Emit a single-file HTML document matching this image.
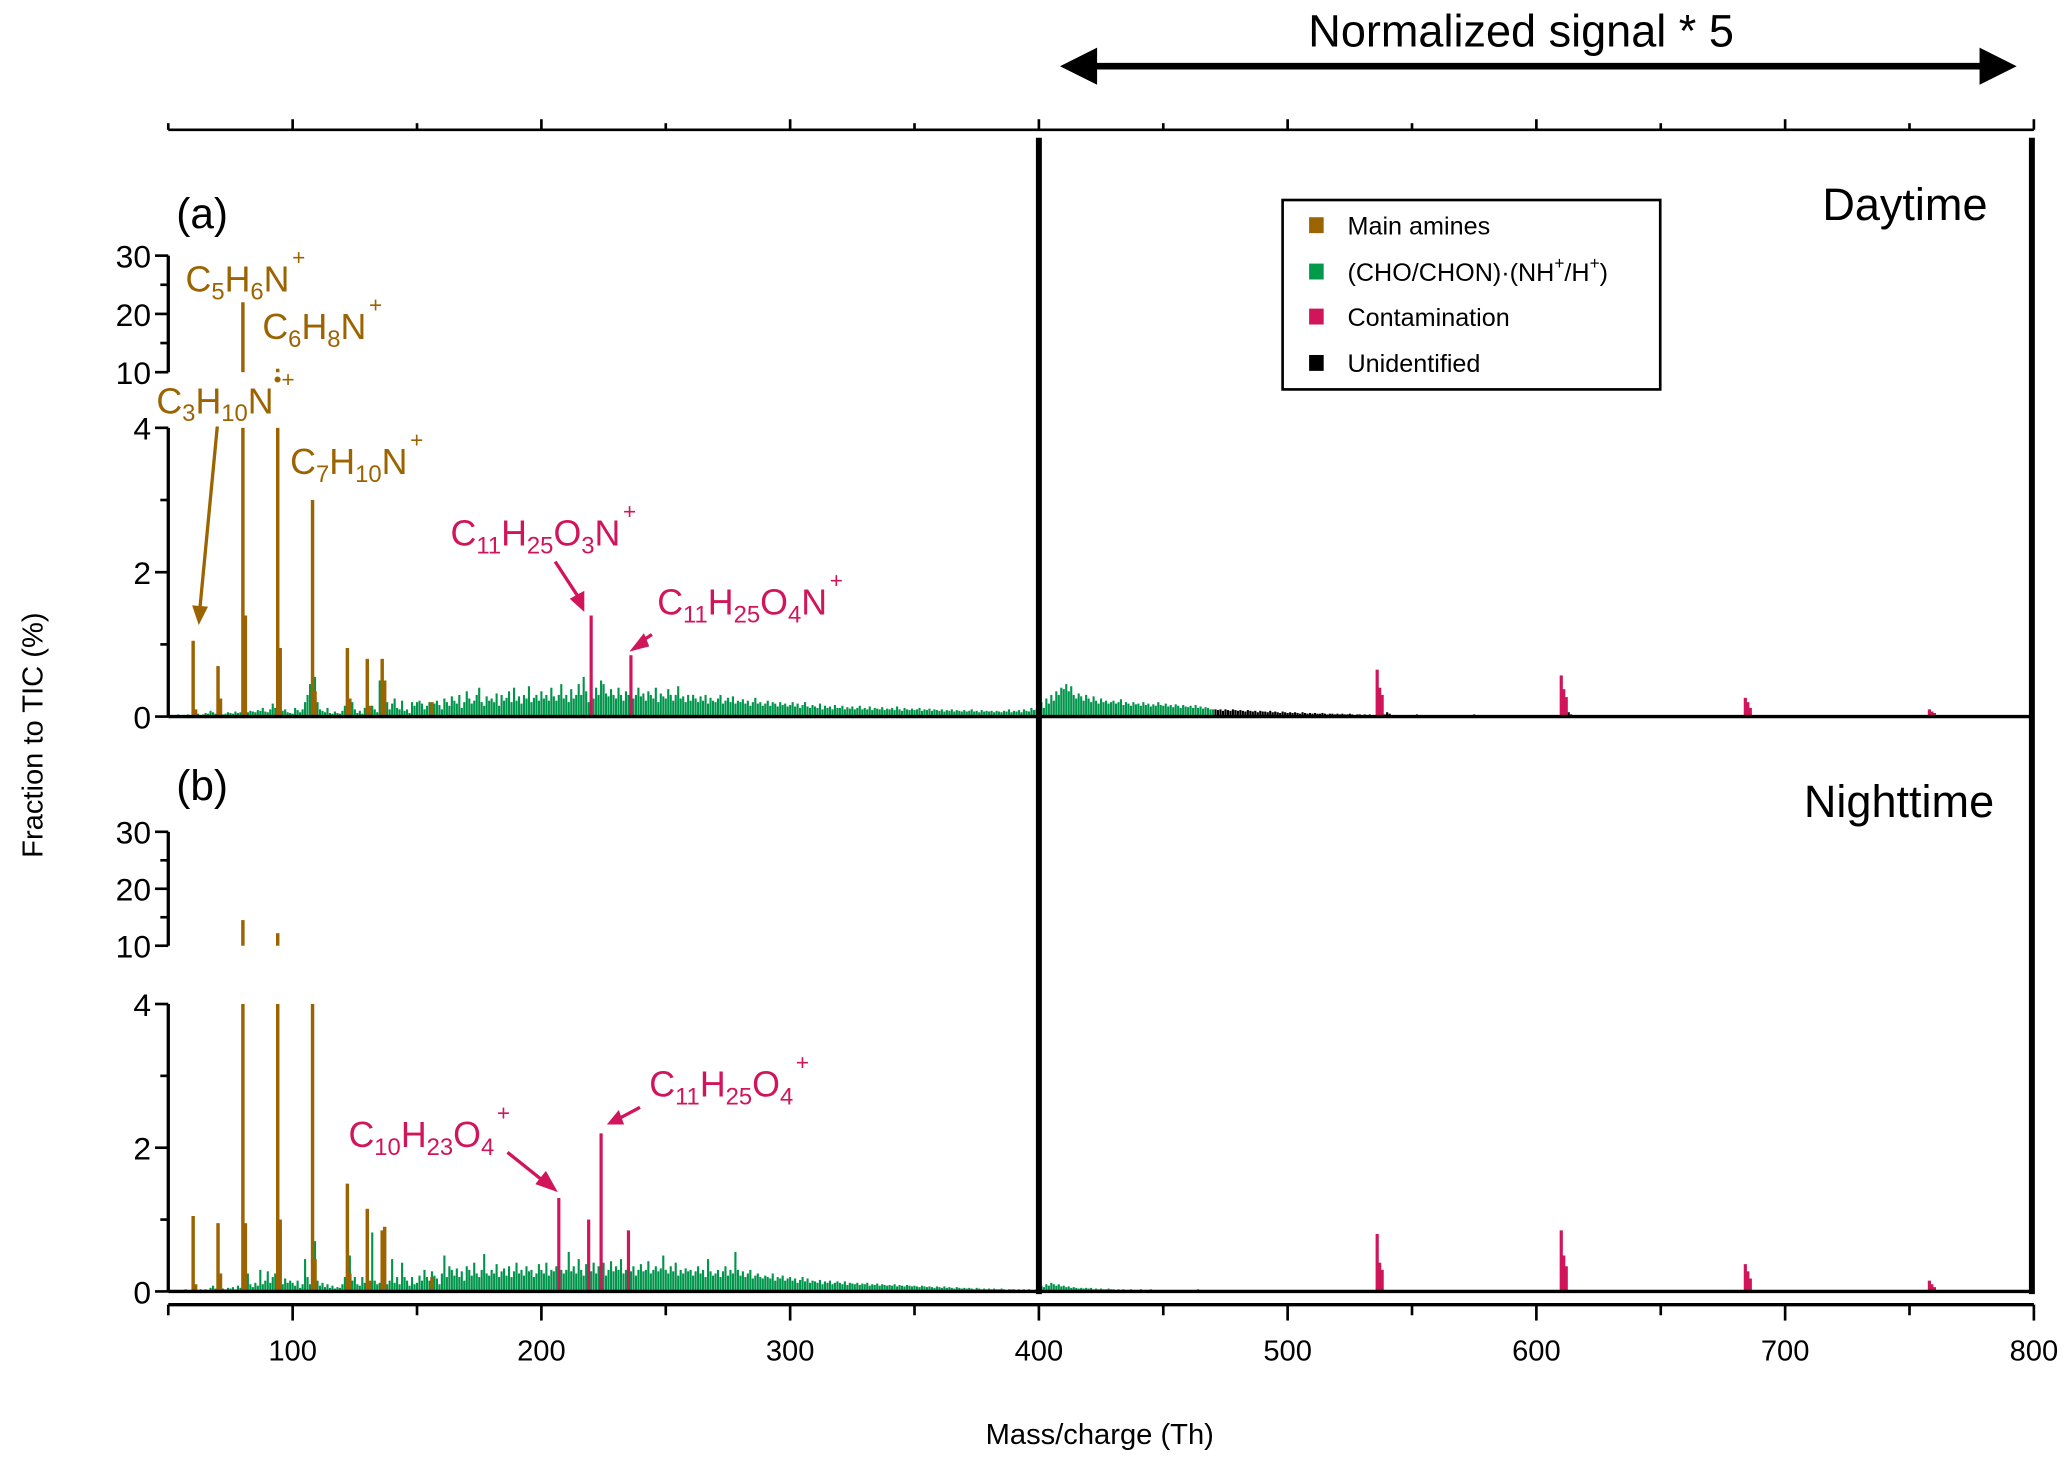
<!DOCTYPE html>
<html><head><meta charset="utf-8"><style>
html,body{margin:0;padding:0;background:#fff}
svg{display:block}
text{font-family:"Liberation Sans",sans-serif}
</style></head><body>
<svg id="chart" width="2067" height="1457" viewBox="0 0 1560 1100" preserveAspectRatio="none" xmlns="http://www.w3.org/2000/svg">
<g id="bars"></g>
<g id="axes"></g>
<g>
 <text x="133" y="172" font-size="32">(a)</text>
 <text x="133" y="604" font-size="32">(b)</text>
 <text x="1500" y="166" font-size="34" text-anchor="end">Daytime</text>
 <text x="1505" y="617" font-size="34" text-anchor="end">Nighttime</text>
 <text x="1148" y="35" font-size="34" text-anchor="middle">Normalized signal * 5</text>
 <line x1="822" y1="50" x2="1500" y2="50" stroke="#000" stroke-width="5"/>
 <polygon points="800,50 828,36 828,64" fill="#000"/>
 <polygon points="1522,50 1494,36 1494,64" fill="#000"/>
 <text transform="translate(32,555) rotate(-90)" font-size="22" text-anchor="middle">Fraction to TIC (%)</text>
 <text x="830" y="1090" font-size="22" text-anchor="middle">Mass/charge (Th)</text>

 <g fill="#9c6400" font-size="27">
  <text x="140" y="220">C<tspan font-size="18" dy="6">5</tspan><tspan dy="-6">H</tspan><tspan font-size="18" dy="6">6</tspan><tspan dy="-6">N</tspan><tspan font-size="17" dx="2" dy="-20">+</tspan></text>
  <text x="198" y="256">C<tspan font-size="18" dy="6">6</tspan><tspan dy="-6">H</tspan><tspan font-size="18" dy="6">8</tspan><tspan dy="-6">N</tspan><tspan font-size="17" dx="2" dy="-20">+</tspan></text>
  <text x="118" y="312">C<tspan font-size="18" dy="6">3</tspan><tspan dy="-6">H</tspan><tspan font-size="18" dy="6">10</tspan><tspan dy="-6">N</tspan><tspan font-size="17" dx="0" dy="-20">•+</tspan></text>
  <text x="219" y="358">C<tspan font-size="18" dy="6">7</tspan><tspan dy="-6">H</tspan><tspan font-size="18" dy="6">10</tspan><tspan dy="-6">N</tspan><tspan font-size="17" dx="2" dy="-20">+</tspan></text>
 </g>
 <line x1="164" y1="322" x2="151" y2="458" stroke="#9c6400" stroke-width="2.5"/>
 <polygon points="145,457 157,458 150,472" fill="#9c6400"/>

 <g fill="#d1155b" font-size="27">
  <text x="340" y="412">C<tspan font-size="18" dy="6">11</tspan><tspan dy="-6">H</tspan><tspan font-size="18" dy="6">25</tspan><tspan dy="-6">O</tspan><tspan font-size="18" dy="6">3</tspan><tspan dy="-6">N</tspan><tspan font-size="17" dx="2" dy="-20">+</tspan></text>
  <text x="496" y="464">C<tspan font-size="18" dy="6">11</tspan><tspan dy="-6">H</tspan><tspan font-size="18" dy="6">25</tspan><tspan dy="-6">O</tspan><tspan font-size="18" dy="6">4</tspan><tspan dy="-6">N</tspan><tspan font-size="17" dx="2" dy="-20">+</tspan></text>
  <text x="263" y="866">C<tspan font-size="18" dy="6">10</tspan><tspan dy="-6">H</tspan><tspan font-size="18" dy="6">23</tspan><tspan dy="-6">O</tspan><tspan font-size="18" dy="6">4</tspan><tspan font-size="17" dx="2" dy="-26">+</tspan></text>
  <text x="490" y="828">C<tspan font-size="18" dy="6">11</tspan><tspan dy="-6">H</tspan><tspan font-size="18" dy="6">25</tspan><tspan dy="-6">O</tspan><tspan font-size="18" dy="6">4</tspan><tspan font-size="17" dx="2" dy="-26">+</tspan></text>
 </g>
 <g stroke="#d1155b" stroke-width="2.5" fill="none">
  <line x1="419" y1="424" x2="436" y2="450"/>
  <line x1="492" y1="479" x2="483" y2="485"/>
  <line x1="383" y1="870" x2="408" y2="890"/>
  <line x1="483" y1="836" x2="468" y2="844"/>
 </g>
 <g fill="#d1155b">
  <polygon points="430,452 441,446 441,462"/>
  <polygon points="486,478 490,488 475,492"/>
  <polygon points="404,894 412,884 421,900"/>
  <polygon points="467,838 471,849 458,849"/>
 </g>

 <g>
  <rect x="968" y="151" width="285" height="143" fill="#fff" stroke="#000" stroke-width="2"/>
  <rect x="988" y="164" width="11" height="12" fill="#9c6400"/>
  <text x="1017" y="177" font-size="19">Main amines</text>
  <rect x="988" y="199" width="11" height="12" fill="#009a4a"/>
  <text x="1017" y="212" font-size="19">(CHO/CHON)·(NH<tspan font-size="13" dy="-9">+</tspan><tspan dy="9">/H</tspan><tspan font-size="13" dy="-9">+</tspan><tspan dy="9">)</tspan></text>
  <rect x="988" y="233" width="11" height="12" fill="#d1155b"/>
  <text x="1017" y="246" font-size="19">Contamination</text>
  <rect x="988" y="268" width="11" height="12" fill="#000"/>
  <text x="1017" y="281" font-size="19">Unidentified</text>
 </g>
</g>
</svg>
<script>
// ---------- data ----------
const xTicks = [100,200,300,400,500,600,700,800];
const yLowTicks = [0,2,4];
const yHighTicks = [10,20,30];
const greenStartA = 50;
const greenA = [
.01,.02,.01,.02,.03,.02,.01,.02,.03,.02,
.02,.03,.04,.02,.03,.05,.04,.08,.06,.04,
.1,.05,.03,.04,.06,.05,.04,.07,.05,.06,
.04,.07,.06,.08,.07,.06,.09,.08,.12,.07,
.06,.1,.18,.12,.25,.1,.08,.1,.06,.05,
.04,.12,.09,.06,.1,.2,.3,.45,.15,.55,
.2,.1,.08,.06,.12,.05,.04,.07,.05,.04,
.08,.15,.22,.1,.2,.1,.05,.08,.04,.12,
.08,.05,.15,.1,.06,.5,.05,.12,.2,.1,
.18,.25,.12,.1,.22,.08,.1,.05,.2,.15,
.2,.22,.18,.1,.15,.2,.12,.18,.22,.16,
.1,.25,.2,.15,.28,.22,.18,.3,.12,.2,
.35,.25,.18,.22,.3,.4,.2,.15,.28,.22,
.25,.2,.32,.15,.3,.22,.26,.35,.2,.4,
.22,.28,.18,.3,.25,.42,.2,.26,.3,.22,
.35,.25,.3,.22,.4,.28,.22,.3,.45,.25,
.3,.2,.38,.25,.3,.45,.3,.55,.35,.2,
.3,.25,.4,.3,.5,.45,.32,.28,.38,.3,
.25,.4,.3,.22,.35,.3,.38,.25,.3,.4,
.28,.32,.22,.35,.3,.25,.4,.2,.32,.28,
.25,.38,.3,.22,.3,.42,.25,.28,.2,.3,
.22,.3,.25,.2,.28,.22,.3,.18,.26,.22,
.2,.25,.3,.18,.22,.26,.2,.28,.18,.22,
.2,.24,.18,.22,.15,.2,.26,.18,.2,.15,
.18,.22,.15,.2,.18,.14,.2,.16,.18,.14,
.16,.2,.14,.18,.12,.16,.2,.14,.12,.16,
.14,.12,.18,.1,.15,.12,.14,.1,.16,.12,
.12,.15,.1,.13,.11,.14,.1,.12,.15,.1,
.12,.1,.14,.09,.12,.11,.1,.13,.09,.11,
.1,.12,.09,.14,.1,.08,.12,.1,.09,.11,
.09,.1,.12,.08,.1,.09,.11,.08,.1,.09,
.08,.1,.07,.09,.08,.1,.07,.09,.08,.07,
.09,.07,.08,.1,.07,.08,.06,.09,.07,.08,
.07,.08,.06,.08,.07,.06,.08,.07,.1,.06,
.08,.07,.09,.06,.1,.08,.07,.12,.09,.1,
.15,.2,.12,.25,.18,.3,.22,.35,.3,.4,
.38,.45,.35,.42,.3,.25,.32,.28,.22,.3,
.25,.2,.28,.22,.18,.25,.2,.22,.18,.2,
.22,.18,.2,.24,.16,.2,.18,.15,.2,.17,
.18,.15,.2,.16,.18,.14,.17,.15,.2,.16,
.15,.18,.14,.16,.13,.17,.15,.12,.16,.14,
.13,.15,.12,.16,.12,.14,.11,.13,.12,.1,
.1];
const blackStartA = 471;
const blackA = [
.1,.09,.1,.08,.1,.09,.08,.1,.09,.08,
.09,.08,.07,.09,.08,.07,.08,.06,.08,.07,
.07,.06,.08,.06,.07,.06,.05,.07,.06,.05,
.06,.05,.06,.05,.04,.06,.05,.04,.05,.04,
.05,.04,.04,.05,.04,.03,.04,.04,.03,.04,
.03,.04,.03,.03,.04,.03,.02,.03,.03,.02,
.03,.02,.03,.02,.02,.03,.02,.02,.03,.02];
const blackTailMzA = [540,541,545,548,552,556,560,565,570,575,580,588,592,600,613,614,620,628,640,650,660,670,686,688,692,700,720,730,750,762];
const blackTailA   = [.06,.04,.02,.02,.03,.02,.02,.02,.02,.03,.02,.02,.02,.02,.06,.03,.02,.02,.02,.02,.02,.02,.04,.02,.02,.01,.01,.02,.01,.02];
const amineMzA  = [60,61,70,71,80,81,94,95,108,109,122,123,130,131,136,137,156];
const amineA    = [1.05,.1,.7,.25,22,1.4,10.6,.95,3.0,.35,.95,.25,.8,.15,.8,.5,.2];
const contamMzA = [220,236,536,537,538,610,611,612,684,685,686,758,759,760];
const contamA   = [1.4,.85,.65,.4,.3,.57,.38,.27,.26,.2,.12,.1,.07,.05];

const greenStartB = 50;
const greenB = [
.01,.01,.02,.01,.02,.01,.02,.03,.02,.01,
.02,.01,.02,.03,.02,.03,.02,.05,.08,.04,
.06,.1,.04,.03,.05,.04,.06,.03,.08,.05,
.04,.07,.25,.1,.06,.12,.08,.3,.1,.15,
.28,.12,.2,.25,.3,.15,.1,.18,.12,.15,
.12,.08,.15,.05,.1,.45,.2,.1,.45,.7,
.15,.08,.12,.06,.1,.05,.08,.04,.06,.05,
.1,.2,.3,.5,.15,.2,.1,.08,.2,.12,
.1,.08,.82,.15,.1,.12,.08,.2,.1,.15,
.45,.12,.2,.1,.4,.2,.15,.08,.2,.1,
.12,.22,.15,.3,.2,.15,.28,.22,.18,.1,
.25,.5,.2,.35,.3,.22,.32,.2,.28,.15,
.35,.3,.22,.4,.25,.2,.3,.52,.25,.22,
.3,.25,.38,.2,.28,.32,.22,.35,.2,.28,
.4,.25,.3,.22,.35,.28,.3,.2,.25,.38,
.3,.25,.4,.22,.3,.28,.35,.2,.3,.25,
.3,.55,.28,.35,.25,.45,.3,.22,.38,.3,
.28,.4,.25,.35,.3,.4,.22,.3,.42,.28,
.35,.3,.45,.25,.3,.4,.28,.35,.22,.3,
.38,.28,.3,.42,.25,.3,.35,.28,.32,.5,
.3,.25,.35,.28,.4,.22,.3,.25,.32,.28,
.3,.22,.28,.35,.25,.3,.2,.45,.28,.22,
.25,.3,.2,.28,.35,.22,.3,.25,.55,.3,
.22,.28,.2,.25,.3,.18,.22,.25,.2,.18,
.22,.2,.18,.25,.15,.2,.18,.22,.15,.18,
.2,.15,.18,.12,.16,.2,.14,.18,.12,.15,
.14,.12,.16,.1,.14,.12,.15,.1,.12,.14,
.12,.1,.14,.09,.12,.11,.1,.12,.09,.11,
.1,.12,.08,.1,.09,.11,.08,.1,.09,.08,
.09,.08,.1,.07,.09,.08,.07,.09,.08,.07,
.08,.07,.06,.08,.07,.06,.07,.06,.05,.07,
.06,.05,.07,.05,.06,.05,.04,.06,.05,.04,
.05,.04,.05,.04,.03,.05,.04,.03,.04,.03,
.04,.03,.04,.03,.03,.04,.03,.02,.03,.03,
.03,.02,.03,.02,.03,.02,.03,.02,.02,.03,
.05,.08,.06,.1,.08,.12,.1,.08,.1,.07,
.08,.06,.07,.05,.06,.05,.04,.05,.04,.05,
.04,.05,.03,.04,.03,.04,.03,.03,.04,.03,
.03,.02,.03,.02,.03,.02,.02,.03,.02,.02,
.02,.03,.02,.02,.02,.03,.02,.02,.02,.02,
.02,.02,.01,.02,.02,.01,.02,.01,.02,.01,
.01,.02,.01,.01,.03,.01,.01,.02,.01,.01];
const amineMzB  = [60,61,70,71,80,81,94,95,108,109,122,123,130,131,136,137,156];
const amineB    = [1.05,.1,.95,.25,14.5,.95,12.2,1.0,5.0,.45,1.5,.25,1.15,.15,.85,.9,.2];
const contamMzB = [207,219,224,235,536,537,538,610,611,612,684,685,686,758,759,760];
const contamB   = [1.3,1.0,2.2,.85,.8,.4,.3,.85,.5,.35,.38,.28,.18,.15,.1,.06];

// ---------- scales ----------
const X0=127, X1=1535, M0=50, M1=800;
function xs(m){return X0+(m-M0)*(X1-X0)/(M1-M0);}
const panels = {
 a:{base:541, low:54.5, hiBase:281, hi:4.4},
 b:{base:975, low:54.25, hiBase:714, hi:4.3}
};
const NS='http://www.w3.org/2000/svg';
const barsG=document.getElementById('bars');
const axesG=document.getElementById('axes');
function mk(tag,attrs,parent){const e=document.createElementNS(NS,tag);for(const k in attrs)e.setAttribute(k,attrs[k]);parent.appendChild(e);return e;}

function drawBar(p,m,v,color,w,name){
 const P=panels[p];
 const lv=Math.min(v,4);
 const x=xs(m)-w/2;
 const r=mk('rect',{x:x,y:P.base-lv*P.low,width:w,height:lv*P.low,fill:color},barsG);
 
 
 if(v>10){
  const r2=mk('rect',{x:x,y:P.hiBase-(v-10)*P.hi,width:w,height:(v-10)*P.hi,fill:color},barsG);
  
  
 }
}
const GREEN='#00954a', BROWN='#9c6400', PINK='#d1155b';
greenA.forEach((v,i)=>drawBar('a',greenStartA+i,v,GREEN,1.6,'bar-cho-a'));
blackA.forEach((v,i)=>drawBar('a',blackStartA+i,v,'#000',1.6,'bar-unidentified-a'));
blackTailA.forEach((v,i)=>drawBar('a',blackTailMzA[i],v,'#000',1.6,'bar-unidentified-a'));
amineA.forEach((v,i)=>drawBar('a',amineMzA[i],v,BROWN,2.6,'bar-amine-a'));
contamA.forEach((v,i)=>drawBar('a',contamMzA[i],v,PINK,2.4,'bar-contamination-a'));
greenB.forEach((v,i)=>drawBar('b',greenStartB+i,v,GREEN,1.6,'bar-cho-b'));
amineB.forEach((v,i)=>drawBar('b',amineMzB[i],v,BROWN,2.6,'bar-amine-b'));
contamB.forEach((v,i)=>drawBar('b',contamMzB[i],v,PINK,2.4,'bar-contamination-b'));

// ---------- axes ----------
function line(x1,y1,x2,y2,w,name){
 const l=mk('line',{x1:x1,y1:y1,x2:x2,y2:y2,stroke:'#000','stroke-width':w},axesG);
 
 
 return l;
}
function txt(x,y,s,anchor,name,size){
 const t=mk('text',{x:x,y:y,'font-size':size||22,'text-anchor':anchor},axesG);
 t.textContent=s;
 
 
}
line(X0,98,X1,98,2,'top-axis');
for(let m=50;m<=800;m+=50){const maj=m%100===0;line(xs(m),98,xs(m),maj?90:93,2,'top-axis-tick');}
line(X0,985,X1,985,2.5,'x-axis');
for(let m=50;m<=800;m+=50){const maj=m%100===0;line(xs(m),985,xs(m),maj?997:993,2,'x-axis-tick');}
xTicks.forEach(t=>txt(xs(t),1027,String(t),'middle','x-tick-label',22));
line(xs(400),104,xs(400),977,4.5,'normalized-region-left-border');
line(xs(800)-1.5,104,xs(800)-1.5,977,4.5,'normalized-region-right-border');
['a','b'].forEach(p=>{
 const P=panels[p];
 line(X0,P.base,xs(800),P.base,2.5,'baseline-'+p);
 line(X0,P.base,X0,P.base-4*P.low,2.5,'y-axis-lower-'+p);
 line(X0,P.hiBase,X0,P.hiBase-20*P.hi,2.5,'y-axis-upper-'+p);
 for(let v=0;v<=4;v++){line(X0-(v%2===0?10:6),P.base-v*P.low,X0,P.base-v*P.low,2,'y-tick-'+p);}
 yLowTicks.forEach(v=>txt(X0-13,P.base-v*P.low+9,String(v),'end','y-tick-label-'+p,24));
 for(let v=10;v<=30;v+=5){line(X0-(v%10===0?10:6),P.hiBase-(v-10)*P.hi,X0,P.hiBase-(v-10)*P.hi,2,'y-tick-upper-'+p);}
 yHighTicks.forEach(v=>txt(X0-13,P.hiBase-(v-10)*P.hi+9,String(v),'end','y-tick-label-upper-'+p,24));
});
</script>
</body></html>
